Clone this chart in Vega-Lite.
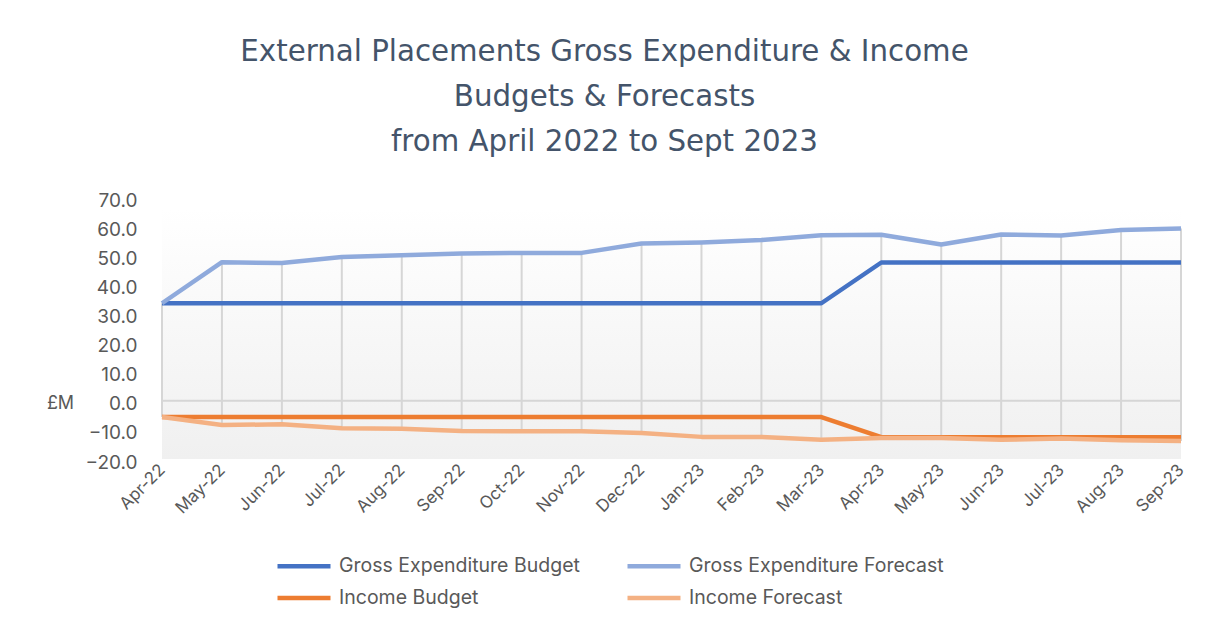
{
  "$schema": "https://vega.github.io/schema/vega-lite/v6.json",
  "width": 1019,
  "height": 262,
  "autosize": {"type": "none"},
  "padding": {"left": 162, "top": 197, "right": 28, "bottom": 165},
  "background": "white",
  "title": {
    "text": ["External Placements Gross Expenditure & Income", "Budgets & Forecasts", "from April 2022 to Sept 2023"],
    "font": "DejaVu Sans",
    "fontSize": 29.3,
    "fontWeight": "normal",
    "color": "#44546A",
    "lineHeight": 45,
    "anchor": "middle",
    "dx": -67,
    "offset": 34
  },
  "config": {
    "view": {"stroke": null},
    "axis": {"domain": false, "ticks": false, "grid": false, "labelColor": "#595959", "labelFont": "Inter", "labelOverlap": false},
    "axisY": {"labelOverlap": false, "tickCount": 10}
  },
  "layer": [
    {
      "data": {"values": [{"top": 66, "bottom": -20}]},
      "mark": {
        "type": "rect",
        "fill": {
          "gradient": "linear", "x1": 0, "y1": 0, "x2": 0, "y2": 1,
          "stops": [{"offset": 0, "color": "#FFFFFF"}, {"offset": 1, "color": "#F0F0F0"}]
        }
      },
      "encoding": {
        "y": {
          "field": "top", "type": "quantitative", "scale": {"domain": [-20, 70]},
          "axis": {
            "values": [-20, -10, 0, 10, 20, 30, 40, 50, 60, 70],
            "labelOverlap": false, "labelOffset": 3,
            "format": ".1f", "labelFontSize": 19, "labelPadding": 25,
            "title": "£M", "titleAngle": 0, "titleX": -102, "titleY": 206,
            "titleAlign": "center", "titleBaseline": "middle",
            "titleFont": "Inter", "titleFontSize": 18, "titleFontWeight": "normal", "titleColor": "#595959"
          }
        },
        "y2": {"field": "bottom"}
      }
    },
    {
      "data": {"values": [{"zero": 0}]},
      "mark": {"type": "rule", "color": "#D6D6D6", "strokeWidth": 2},
      "encoding": {"y": {"field": "zero", "type": "quantitative", "axis": {"values": [-20, -10, 0, 10, 20, 30, 40, 50, 60, 70], "labelOverlap": false}}}
    },
    {
      "data": {"name": "main"},
      "transform": [{"fold": ["Gross Expenditure Budget", "Gross Expenditure Forecast", "Income Budget", "Income Forecast"], "as": ["series", "value"]}],
      "layer": [
        {
          "mark": {"type": "rule", "color": "#D6D6D6", "strokeWidth": 2},
          "encoding": {
            "x": {"field": "month", "type": "ordinal", "sort": null},
            "y": {"aggregate": "max", "field": "value", "type": "quantitative", "axis": {"values": [-20, -10, 0, 10, 20, 30, 40, 50, 60, 70], "labelOverlap": false}},
            "y2": {"aggregate": "min", "field": "value"}
          }
        },
        {
          "mark": {"type": "line", "strokeWidth": 4.5, "strokeJoin": "round"},
          "encoding": {
            "x": {
              "field": "month", "type": "ordinal", "sort": null,
              "scale": {"type": "point", "padding": 0},
              "axis": {"title": null, "labelAngle": -45, "labelFontSize": 17, "labelPadding": 8}
            },
            "y": {
              "field": "value", "type": "quantitative",
              "scale": {"domain": [-20, 70]},
              "axis": {
                "values": [-20, -10, 0, 10, 20, 30, 40, 50, 60, 70],
                "labelOverlap": false, "labelOffset": 3,
                "format": ".1f", "labelFontSize": 19, "labelPadding": 25,
                "title": "£M", "titleAngle": 0, "titleX": -102, "titleY": 206,
                "titleAlign": "center", "titleBaseline": "middle",
                "titleFont": "Inter", "titleFontSize": 18, "titleFontWeight": "normal", "titleColor": "#595959"
              }
            },
            "color": {
              "field": "series", "type": "nominal",
              "scale": {
                "domain": ["Gross Expenditure Budget", "Gross Expenditure Forecast", "Income Budget", "Income Forecast"],
                "range": ["#4472C4", "#8FAADC", "#ED7D31", "#F4B183"]
              },
              "legend": {
                "title": null, "orient": "none", "legendX": 113, "legendY": 360,
                "direction": "horizontal",
                "columns": 2, "columnPadding": 45, "rowPadding": 12, "clipHeight": 18,
                "symbolType": "stroke", "symbolSize": 2809, "symbolStrokeWidth": 4.6,
                "labelFont": "Inter", "labelFontSize": 19.5, "labelColor": "#595959", "labelOffset": 6, "labelLimit": 400
              }
            }
          }
        }
      ]
    }
  ],
  "datasets": {
    "main": [
      {"month": "Apr-22", "Gross Expenditure Budget": 33.5, "Gross Expenditure Forecast": 33.5, "Income Budget": -5.6, "Income Forecast": -5.6},
      {"month": "May-22", "Gross Expenditure Budget": 33.5, "Gross Expenditure Forecast": 47.6, "Income Budget": -5.6, "Income Forecast": -8.3},
      {"month": "Jun-22", "Gross Expenditure Budget": 33.5, "Gross Expenditure Forecast": 47.3, "Income Budget": -5.6, "Income Forecast": -8.1},
      {"month": "Jul-22", "Gross Expenditure Budget": 33.5, "Gross Expenditure Forecast": 49.4, "Income Budget": -5.6, "Income Forecast": -9.4},
      {"month": "Aug-22", "Gross Expenditure Budget": 33.5, "Gross Expenditure Forecast": 50.0, "Income Budget": -5.6, "Income Forecast": -9.6},
      {"month": "Sep-22", "Gross Expenditure Budget": 33.5, "Gross Expenditure Forecast": 50.6, "Income Budget": -5.6, "Income Forecast": -10.4},
      {"month": "Oct-22", "Gross Expenditure Budget": 33.5, "Gross Expenditure Forecast": 50.8, "Income Budget": -5.6, "Income Forecast": -10.5},
      {"month": "Nov-22", "Gross Expenditure Budget": 33.5, "Gross Expenditure Forecast": 50.8, "Income Budget": -5.6, "Income Forecast": -10.5},
      {"month": "Dec-22", "Gross Expenditure Budget": 33.5, "Gross Expenditure Forecast": 54.0, "Income Budget": -5.6, "Income Forecast": -11.1},
      {"month": "Jan-23", "Gross Expenditure Budget": 33.5, "Gross Expenditure Forecast": 54.4, "Income Budget": -5.6, "Income Forecast": -12.4},
      {"month": "Feb-23", "Gross Expenditure Budget": 33.5, "Gross Expenditure Forecast": 55.2, "Income Budget": -5.6, "Income Forecast": -12.4},
      {"month": "Mar-23", "Gross Expenditure Budget": 33.5, "Gross Expenditure Forecast": 56.9, "Income Budget": -5.6, "Income Forecast": -13.4},
      {"month": "Apr-23", "Gross Expenditure Budget": 47.5, "Gross Expenditure Forecast": 57.0, "Income Budget": -12.5, "Income Forecast": -12.8},
      {"month": "May-23", "Gross Expenditure Budget": 47.5, "Gross Expenditure Forecast": 53.7, "Income Budget": -12.5, "Income Forecast": -12.8},
      {"month": "Jun-23", "Gross Expenditure Budget": 47.5, "Gross Expenditure Forecast": 57.1, "Income Budget": -12.5, "Income Forecast": -13.4},
      {"month": "Jul-23", "Gross Expenditure Budget": 47.5, "Gross Expenditure Forecast": 56.8, "Income Budget": -12.5, "Income Forecast": -13.0},
      {"month": "Aug-23", "Gross Expenditure Budget": 47.5, "Gross Expenditure Forecast": 58.7, "Income Budget": -12.5, "Income Forecast": -13.6},
      {"month": "Sep-23", "Gross Expenditure Budget": 47.5, "Gross Expenditure Forecast": 59.2, "Income Budget": -12.5, "Income Forecast": -13.8}
    ]
  }
}
